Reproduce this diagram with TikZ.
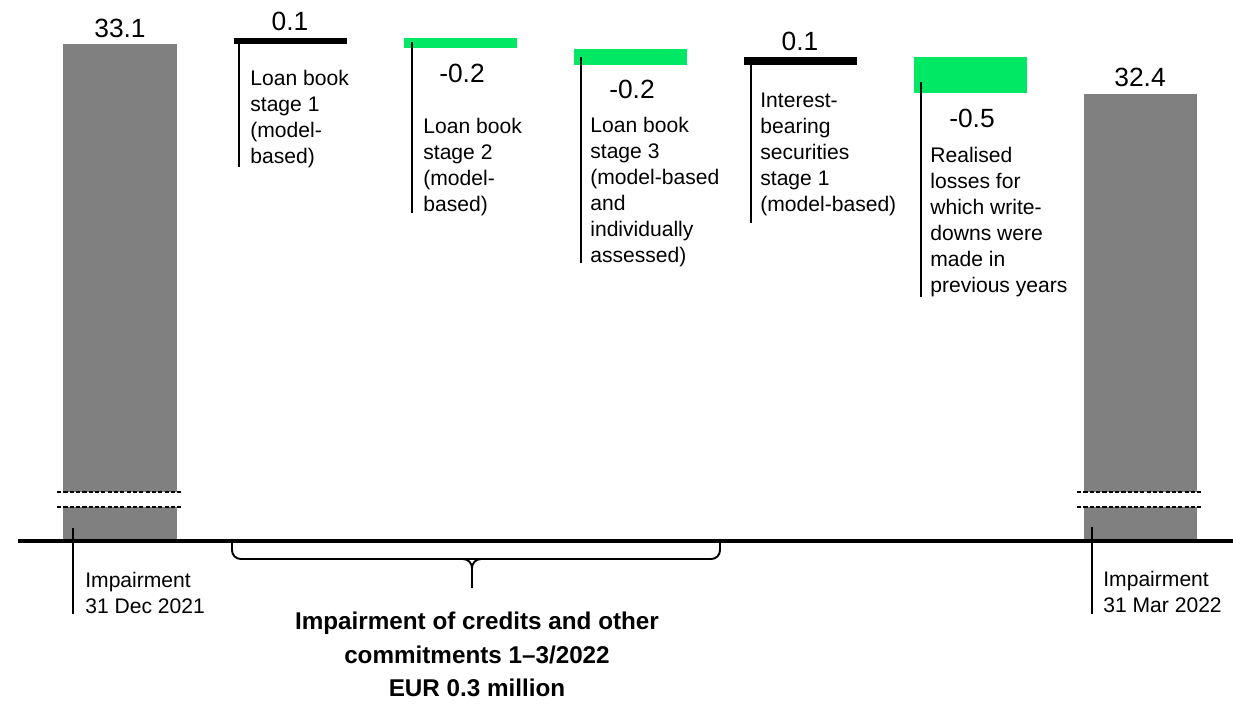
\documentclass[tikz,border=0pt]{standalone}
\usepackage{fontspec}
\setmainfont{Liberation Sans}
\usepackage{xcolor}
\definecolor{barGray}{RGB}{128,128,128}
\definecolor{barGreen}{RGB}{0,232,100}
\tikzset{
	lbl/.style={anchor=north west, inner sep=0, align=left, font=\fontsize{12}{14.8}\selectfont},
	val/.style={anchor=base, inner sep=0, font=\fontsize{15}{18}\selectfont},
	leader/.style={line width=1.1pt},
	brk/.style={line width=0.8pt, dash pattern=on 2.4pt off 1.2pt}
}
\begin{document}
\begin{tikzpicture}[x=0.02cm, y=-0.02cm]
				\useasboundingbox (0,0) rectangle (1233,703);
				% start and end bars
				\fill[barGray] (63,44) rectangle (177,492);
				\fill[barGray] (63,507) rectangle (177,541);
				\fill[barGray] (1084,94) rectangle (1197,492);
				\fill[barGray] (1084,507) rectangle (1197,541);
				\draw[brk] (57,492) -- (183,492);
				\draw[brk] (57,507) -- (183,507);
				\draw[brk] (1077,492) -- (1203,492);
				\draw[brk] (1077,507) -- (1203,507);
				% steps
				\fill[black] (234,38) rectangle (347,44);
				\fill[barGreen] (404,38) rectangle (517,48);
				\fill[barGreen] (574,49) rectangle (687,65);
				\fill[black] (744,57) rectangle (857,65);
				\fill[barGreen] (914,57) rectangle (1027,93);
				% axis
				\draw[line width=1.8pt] (18,541) -- (1233,541);
				% values
				\node at (120,37) (v1) [val] {33.1};
				\node at (290,31) (v2) [val] {0.1};
				\node at (462,82) (v3) [val] {-0.2};
				\node at (632,98) (v4) [val] {-0.2};
				\node at (800,50) (v5) [val] {0.1};
				\node at (972,127) (v6) [val] {-0.5};
				\node at (1140,86) (v7) [val] {32.4};
				% labels
				\node at (250,70) (t2) [lbl] {Loan book\\stage 1\\(model-\\based)};
				\node at (423,118) (t3) [lbl] {Loan book\\stage 2\\(model-\\based)};
				\node at (590,117) (t4) [lbl] {Loan book\\stage 3\\(model-based\\and\\individually\\assessed)};
				\node at (760,93) (t5) [lbl] {Interest-\\bearing\\securities\\stage 1\\(model-based)};
				\node at (930,147) (t6) [lbl] {Realised\\losses for\\which write-\\downs were\\made in\\previous years};
				\node at (85,572) (t1) [lbl] {Impairment\\31 Dec 2021};
				\node at (1103,571) (t7) [lbl] {Impairment\\31 Mar 2022};
				% leader lines
				\draw[leader] (73,528) -- (73,614);
				\draw[leader] (239,42) -- (239,167);
				\draw[leader] (412,42) -- (412,213);
				\draw[leader] (581,57) -- (581,263);
				\draw[leader] (751,58) -- (751,223);
				\draw[leader] (921,82) -- (921,297);
				\draw[leader] (1092,527) -- (1092,614);
				% brace and total
				\draw[line width=1.1pt, rounded corners=5] (232,542) -- (232,559) -- (720,559) -- (720,542);
				\draw[line width=1.1pt] (463,559) to[out=0,in=90] (472,568) -- (472,588);
				\draw[line width=1.1pt] (481,559) to[out=180,in=90] (472,568);
				\node at (477,612) (tot) [anchor=north, inner sep=0, align=center, font=\fontsize{13.8}{19}\selectfont\bfseries] {Impairment of credits and other\\commitments 1--3/2022\\EUR 0.3 million};
			\end{tikzpicture}
\end{document}
